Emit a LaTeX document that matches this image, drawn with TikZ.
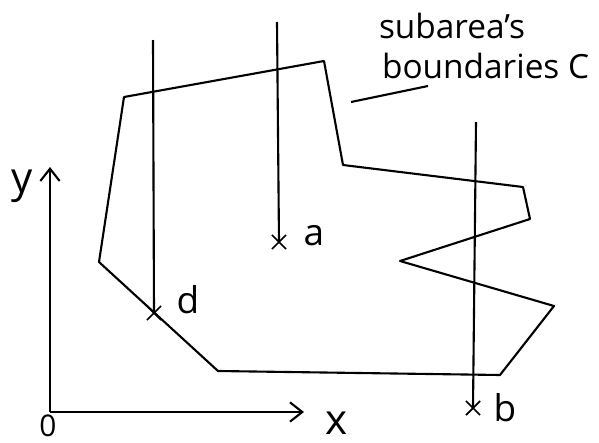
\documentclass[tikz,border=0pt]{standalone}
\usepackage{fontspec}
\setmainfont{Open Sans}
\usetikzlibrary{arrows.meta,shapes.misc,positioning}

\begin{document}
\begin{tikzpicture}[x=0.02cm,y=-0.02cm,line width=1.2pt,
	crossmark/.style={cross out,draw,minimum size=7pt,inner sep=0pt,line width=1pt},
	ptlabel/.style={font=\fontsize{21}{24}\selectfont},
	axlabel/.style={font=\fontsize{24}{26}\selectfont},
	caption/.style={anchor=base west,inner sep=0pt,font=\fontsize{19}{23}\selectfont}]
	\useasboundingbox (0,0) rectangle (599,443);

	% Subarea boundary
	\draw[line join=round] (124,97) -- (324,61) -- (343,165) -- (523,187) -- (530,219) -- (400,261)
		-- (554,306) -- (500,375) -- (218,371) -- (99,262) -- cycle;

	% Caption and its leader
	\node[caption] (C1) at (378,38) {subarea's};
	\node[caption] (C2) at (381,78) {boundaries C};
	\coordinate (lead) at (351,102);
	\coordinate (leadend) at (428,86);
	\draw (lead) -- (leadend);

	% Axes
	\coordinate (O) at (50,412);
	\coordinate (xend) at (304,412);
	\coordinate (yend) at (50,167);
	\draw[-{Straight Barb[length=7pt,width=11pt]}] (O) -- (xend);
	\draw[-{Straight Barb[length=7pt,width=11pt]}] (O) -- (yend);
	\node[anchor=base, inner sep=0pt, font=\fontsize{17}{19}\selectfont] (zero) at (48,436) {0};
	\node[axlabel] (xlab) at (337,423) {x};
	\node[axlabel] (ylab) at (22,186) {y};

	% Points with their vertical lines
	\foreach \name/\x/\y/\topx/\topy/\lx/\ly in {a/279/242/277/22/314/236, d/154/313/153/40/188/300, b/473/408/476/122/505/408} {
		\node[crossmark] (\name) at (\x,\y) {};
		\coordinate (\name top) at (\topx,\topy);
		\draw (\name top) -- (\name.center);
		\node[ptlabel] (\name lab) at (\lx,\ly) {\name};
	}
\end{tikzpicture}
\end{document}
